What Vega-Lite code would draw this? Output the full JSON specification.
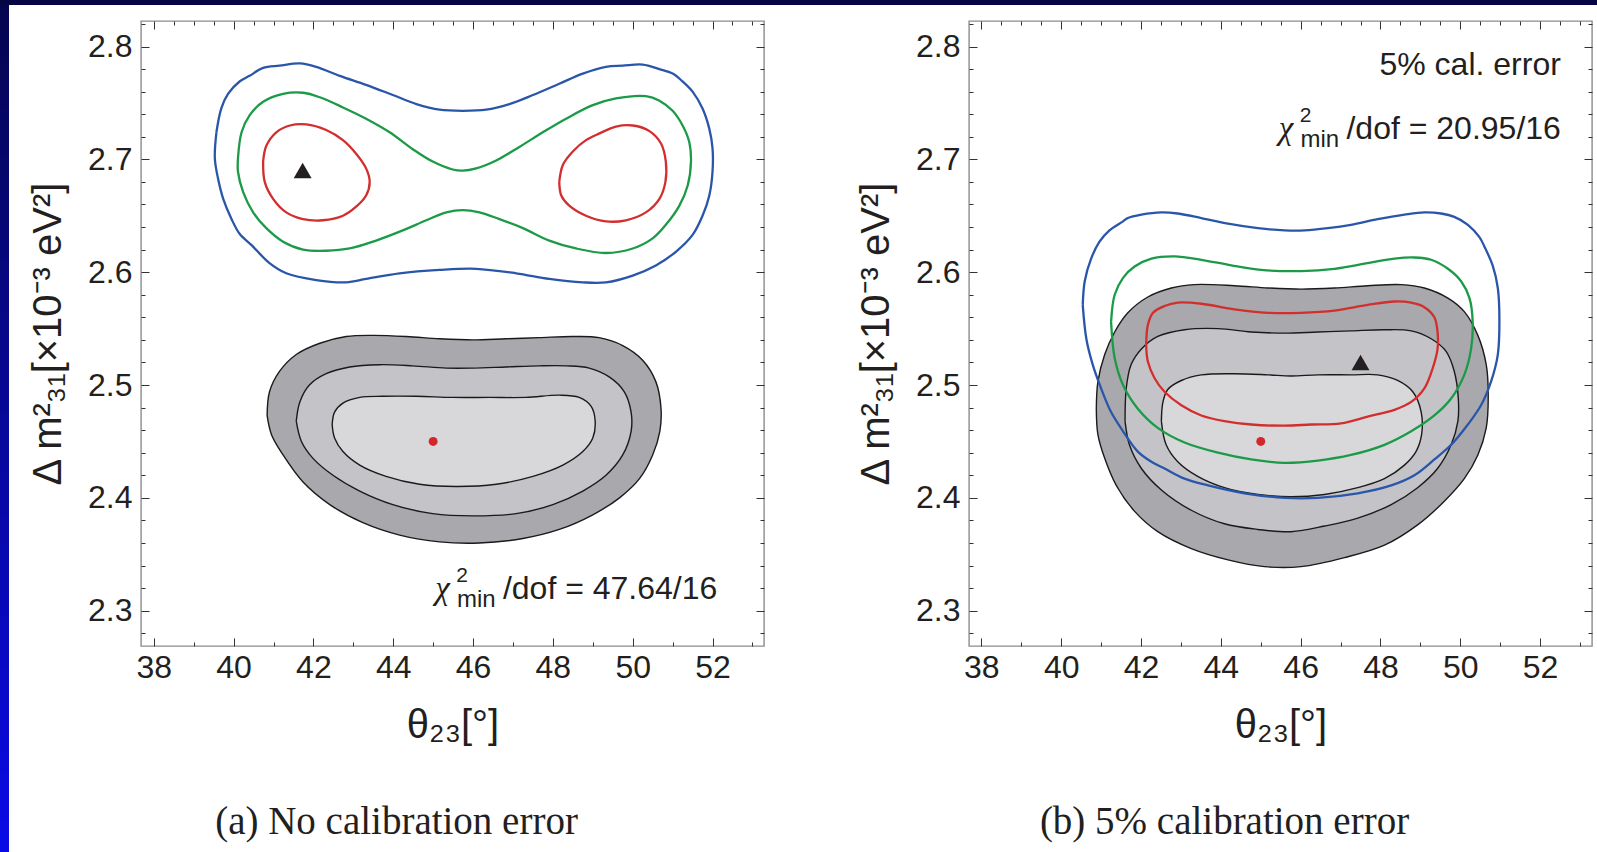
{
"$schema":"https://vega.github.io/schema/vega-lite/v6.json",
"padding":0,
"background":"white",
"config":{"view":{"stroke":"#8c8c8c","strokeWidth":1.4},"font":"Liberation Sans"},
"datasets":{
"cont":[
{"p":"A","c":"bl","i":1,"x":39.57,"y":2.724},{"p":"A","c":"bl","i":2,"x":39.69,"y":2.745},{"p":"A","c":"bl","i":3,"x":39.86,"y":2.758},{"p":"A","c":"bl","i":4,"x":40.15,"y":2.769},{"p":"A","c":"bl","i":5,"x":40.40,"y":2.774},{"p":"A","c":"bl","i":6,"x":40.74,"y":2.781},{"p":"A","c":"bl","i":7,"x":41.15,"y":2.783},{"p":"A","c":"bl","i":8,"x":41.66,"y":2.785},{"p":"A","c":"bl","i":9,"x":42.07,"y":2.782},{"p":"A","c":"bl","i":10,"x":42.66,"y":2.774},{"p":"A","c":"bl","i":11,"x":43.32,"y":2.766},{"p":"A","c":"bl","i":12,"x":43.99,"y":2.757},{"p":"A","c":"bl","i":13,"x":44.58,"y":2.749},{"p":"A","c":"bl","i":14,"x":45.16,"y":2.744},{"p":"A","c":"bl","i":15,"x":45.74,"y":2.743},{"p":"A","c":"bl","i":16,"x":46.33,"y":2.744},{"p":"A","c":"bl","i":17,"x":46.91,"y":2.749},{"p":"A","c":"bl","i":18,"x":47.50,"y":2.757},{"p":"A","c":"bl","i":19,"x":48.16,"y":2.767},{"p":"A","c":"bl","i":20,"x":48.75,"y":2.776},{"p":"A","c":"bl","i":21,"x":49.33,"y":2.782},{"p":"A","c":"bl","i":22,"x":49.75,"y":2.783},{"p":"A","c":"bl","i":23,"x":50.25,"y":2.784},{"p":"A","c":"bl","i":24,"x":50.67,"y":2.780},{"p":"A","c":"bl","i":25,"x":51.00,"y":2.776},{"p":"A","c":"bl","i":26,"x":51.25,"y":2.769},{"p":"A","c":"bl","i":27,"x":51.50,"y":2.760},{"p":"A","c":"bl","i":28,"x":51.75,"y":2.745},{"p":"A","c":"bl","i":29,"x":51.92,"y":2.727},{"p":"A","c":"bl","i":30,"x":52.00,"y":2.710},{"p":"A","c":"bl","i":31,"x":52.00,"y":2.689},{"p":"A","c":"bl","i":32,"x":51.92,"y":2.668},{"p":"A","c":"bl","i":33,"x":51.75,"y":2.650},{"p":"A","c":"bl","i":34,"x":51.50,"y":2.633},{"p":"A","c":"bl","i":35,"x":51.08,"y":2.618},{"p":"A","c":"bl","i":36,"x":50.58,"y":2.606},{"p":"A","c":"bl","i":37,"x":50.00,"y":2.597},{"p":"A","c":"bl","i":38,"x":49.33,"y":2.591},{"p":"A","c":"bl","i":39,"x":48.75,"y":2.591},{"p":"A","c":"bl","i":40,"x":47.91,"y":2.594},{"p":"A","c":"bl","i":41,"x":47.08,"y":2.599},{"p":"A","c":"bl","i":42,"x":46.08,"y":2.603},{"p":"A","c":"bl","i":43,"x":45.16,"y":2.602},{"p":"A","c":"bl","i":44,"x":44.16,"y":2.599},{"p":"A","c":"bl","i":45,"x":43.32,"y":2.594},{"p":"A","c":"bl","i":46,"x":42.82,"y":2.591},{"p":"A","c":"bl","i":47,"x":42.07,"y":2.593},{"p":"A","c":"bl","i":48,"x":41.32,"y":2.599},{"p":"A","c":"bl","i":49,"x":40.90,"y":2.608},{"p":"A","c":"bl","i":50,"x":40.45,"y":2.624},{"p":"A","c":"bl","i":51,"x":40.15,"y":2.634},{"p":"A","c":"bl","i":52,"x":39.95,"y":2.647},{"p":"A","c":"bl","i":53,"x":39.74,"y":2.665},{"p":"A","c":"bl","i":54,"x":39.61,"y":2.683},{"p":"A","c":"bl","i":55,"x":39.53,"y":2.701},{"p":"A","c":"bl","i":56,"x":39.57,"y":2.724},
{"p":"A","c":"gr","i":1,"x":40.11,"y":2.701},{"p":"A","c":"gr","i":2,"x":40.20,"y":2.724},{"p":"A","c":"gr","i":3,"x":40.40,"y":2.739},{"p":"A","c":"gr","i":4,"x":40.74,"y":2.751},{"p":"A","c":"gr","i":5,"x":41.24,"y":2.758},{"p":"A","c":"gr","i":6,"x":41.74,"y":2.759},{"p":"A","c":"gr","i":7,"x":42.16,"y":2.755},{"p":"A","c":"gr","i":8,"x":42.74,"y":2.746},{"p":"A","c":"gr","i":9,"x":43.32,"y":2.736},{"p":"A","c":"gr","i":10,"x":43.91,"y":2.724},{"p":"A","c":"gr","i":11,"x":44.49,"y":2.709},{"p":"A","c":"gr","i":12,"x":44.99,"y":2.698},{"p":"A","c":"gr","i":13,"x":45.49,"y":2.691},{"p":"A","c":"gr","i":14,"x":45.74,"y":2.690},{"p":"A","c":"gr","i":15,"x":46.08,"y":2.692},{"p":"A","c":"gr","i":16,"x":46.58,"y":2.699},{"p":"A","c":"gr","i":17,"x":47.16,"y":2.711},{"p":"A","c":"gr","i":18,"x":47.75,"y":2.724},{"p":"A","c":"gr","i":19,"x":48.33,"y":2.736},{"p":"A","c":"gr","i":20,"x":49.00,"y":2.748},{"p":"A","c":"gr","i":21,"x":49.58,"y":2.754},{"p":"A","c":"gr","i":22,"x":50.33,"y":2.756},{"p":"A","c":"gr","i":23,"x":50.67,"y":2.752},{"p":"A","c":"gr","i":24,"x":51.00,"y":2.743},{"p":"A","c":"gr","i":25,"x":51.25,"y":2.730},{"p":"A","c":"gr","i":26,"x":51.42,"y":2.715},{"p":"A","c":"gr","i":27,"x":51.46,"y":2.698},{"p":"A","c":"gr","i":28,"x":51.38,"y":2.677},{"p":"A","c":"gr","i":29,"x":51.17,"y":2.659},{"p":"A","c":"gr","i":30,"x":50.83,"y":2.642},{"p":"A","c":"gr","i":31,"x":50.50,"y":2.630},{"p":"A","c":"gr","i":32,"x":50.00,"y":2.621},{"p":"A","c":"gr","i":33,"x":49.33,"y":2.617},{"p":"A","c":"gr","i":34,"x":48.58,"y":2.621},{"p":"A","c":"gr","i":35,"x":47.91,"y":2.628},{"p":"A","c":"gr","i":36,"x":47.25,"y":2.639},{"p":"A","c":"gr","i":37,"x":46.66,"y":2.647},{"p":"A","c":"gr","i":38,"x":46.16,"y":2.653},{"p":"A","c":"gr","i":39,"x":45.74,"y":2.655},{"p":"A","c":"gr","i":40,"x":45.33,"y":2.653},{"p":"A","c":"gr","i":41,"x":44.83,"y":2.646},{"p":"A","c":"gr","i":42,"x":44.24,"y":2.637},{"p":"A","c":"gr","i":43,"x":43.57,"y":2.628},{"p":"A","c":"gr","i":44,"x":42.91,"y":2.621},{"p":"A","c":"gr","i":45,"x":42.32,"y":2.619},{"p":"A","c":"gr","i":46,"x":41.74,"y":2.620},{"p":"A","c":"gr","i":47,"x":41.24,"y":2.627},{"p":"A","c":"gr","i":48,"x":40.82,"y":2.639},{"p":"A","c":"gr","i":49,"x":40.49,"y":2.653},{"p":"A","c":"gr","i":50,"x":40.24,"y":2.671},{"p":"A","c":"gr","i":51,"x":40.11,"y":2.689},{"p":"A","c":"gr","i":52,"x":40.11,"y":2.701},
{"p":"A","c":"r1","i":1,"x":40.74,"y":2.698},{"p":"A","c":"r1","i":2,"x":40.82,"y":2.712},{"p":"A","c":"r1","i":3,"x":41.07,"y":2.724},{"p":"A","c":"r1","i":4,"x":41.41,"y":2.730},{"p":"A","c":"r1","i":5,"x":41.82,"y":2.731},{"p":"A","c":"r1","i":6,"x":42.32,"y":2.726},{"p":"A","c":"r1","i":7,"x":42.74,"y":2.717},{"p":"A","c":"r1","i":8,"x":43.07,"y":2.705},{"p":"A","c":"r1","i":9,"x":43.32,"y":2.692},{"p":"A","c":"r1","i":10,"x":43.41,"y":2.680},{"p":"A","c":"r1","i":11,"x":43.32,"y":2.668},{"p":"A","c":"r1","i":12,"x":43.07,"y":2.658},{"p":"A","c":"r1","i":13,"x":42.74,"y":2.650},{"p":"A","c":"r1","i":14,"x":42.24,"y":2.646},{"p":"A","c":"r1","i":15,"x":41.74,"y":2.647},{"p":"A","c":"r1","i":16,"x":41.32,"y":2.653},{"p":"A","c":"r1","i":17,"x":40.99,"y":2.665},{"p":"A","c":"r1","i":18,"x":40.78,"y":2.680},{"p":"A","c":"r1","i":19,"x":40.74,"y":2.698},
{"p":"A","c":"r2","i":1,"x":48.16,"y":2.680},{"p":"A","c":"r2","i":2,"x":48.25,"y":2.695},{"p":"A","c":"r2","i":3,"x":48.50,"y":2.707},{"p":"A","c":"r2","i":4,"x":48.83,"y":2.717},{"p":"A","c":"r2","i":5,"x":49.17,"y":2.723},{"p":"A","c":"r2","i":6,"x":49.58,"y":2.729},{"p":"A","c":"r2","i":7,"x":50.00,"y":2.730},{"p":"A","c":"r2","i":8,"x":50.42,"y":2.725},{"p":"A","c":"r2","i":9,"x":50.71,"y":2.714},{"p":"A","c":"r2","i":10,"x":50.83,"y":2.698},{"p":"A","c":"r2","i":11,"x":50.82,"y":2.680},{"p":"A","c":"r2","i":12,"x":50.67,"y":2.665},{"p":"A","c":"r2","i":13,"x":50.33,"y":2.653},{"p":"A","c":"r2","i":14,"x":49.83,"y":2.646},{"p":"A","c":"r2","i":15,"x":49.33,"y":2.645},{"p":"A","c":"r2","i":16,"x":48.83,"y":2.650},{"p":"A","c":"r2","i":17,"x":48.41,"y":2.659},{"p":"A","c":"r2","i":18,"x":48.21,"y":2.668},{"p":"A","c":"r2","i":19,"x":48.16,"y":2.680},
{"p":"A","c":"g1","i":1,"x":40.84,"y":2.473},{"p":"A","c":"g1","i":2,"x":40.90,"y":2.494},{"p":"A","c":"g1","i":3,"x":41.15,"y":2.512},{"p":"A","c":"g1","i":4,"x":41.57,"y":2.527},{"p":"A","c":"g1","i":5,"x":42.16,"y":2.537},{"p":"A","c":"g1","i":6,"x":42.82,"y":2.543},{"p":"A","c":"g1","i":7,"x":43.49,"y":2.544},{"p":"A","c":"g1","i":8,"x":44.33,"y":2.543},{"p":"A","c":"g1","i":9,"x":45.16,"y":2.541},{"p":"A","c":"g1","i":10,"x":45.99,"y":2.540},{"p":"A","c":"g1","i":11,"x":46.83,"y":2.541},{"p":"A","c":"g1","i":12,"x":47.66,"y":2.542},{"p":"A","c":"g1","i":13,"x":48.50,"y":2.543},{"p":"A","c":"g1","i":14,"x":49.16,"y":2.542},{"p":"A","c":"g1","i":15,"x":49.75,"y":2.535},{"p":"A","c":"g1","i":16,"x":50.25,"y":2.522},{"p":"A","c":"g1","i":17,"x":50.58,"y":2.503},{"p":"A","c":"g1","i":18,"x":50.71,"y":2.479},{"p":"A","c":"g1","i":19,"x":50.68,"y":2.459},{"p":"A","c":"g1","i":20,"x":50.50,"y":2.438},{"p":"A","c":"g1","i":21,"x":50.17,"y":2.417},{"p":"A","c":"g1","i":22,"x":49.67,"y":2.400},{"p":"A","c":"g1","i":23,"x":49.00,"y":2.385},{"p":"A","c":"g1","i":24,"x":48.16,"y":2.372},{"p":"A","c":"g1","i":25,"x":47.25,"y":2.364},{"p":"A","c":"g1","i":26,"x":46.16,"y":2.360},{"p":"A","c":"g1","i":27,"x":45.16,"y":2.361},{"p":"A","c":"g1","i":28,"x":44.16,"y":2.367},{"p":"A","c":"g1","i":29,"x":43.24,"y":2.378},{"p":"A","c":"g1","i":30,"x":42.41,"y":2.394},{"p":"A","c":"g1","i":31,"x":41.74,"y":2.414},{"p":"A","c":"g1","i":32,"x":41.24,"y":2.438},{"p":"A","c":"g1","i":33,"x":40.95,"y":2.456},{"p":"A","c":"g1","i":34,"x":40.84,"y":2.473},
{"p":"A","c":"g2","i":1,"x":41.57,"y":2.468},{"p":"A","c":"g2","i":2,"x":41.66,"y":2.485},{"p":"A","c":"g2","i":3,"x":41.90,"y":2.500},{"p":"A","c":"g2","i":4,"x":42.32,"y":2.510},{"p":"A","c":"g2","i":5,"x":42.91,"y":2.516},{"p":"A","c":"g2","i":6,"x":43.66,"y":2.518},{"p":"A","c":"g2","i":7,"x":44.49,"y":2.517},{"p":"A","c":"g2","i":8,"x":45.33,"y":2.515},{"p":"A","c":"g2","i":9,"x":45.99,"y":2.515},{"p":"A","c":"g2","i":10,"x":46.83,"y":2.516},{"p":"A","c":"g2","i":11,"x":47.66,"y":2.517},{"p":"A","c":"g2","i":12,"x":48.33,"y":2.517},{"p":"A","c":"g2","i":13,"x":48.91,"y":2.515},{"p":"A","c":"g2","i":14,"x":49.42,"y":2.507},{"p":"A","c":"g2","i":15,"x":49.79,"y":2.494},{"p":"A","c":"g2","i":16,"x":49.96,"y":2.476},{"p":"A","c":"g2","i":17,"x":49.96,"y":2.459},{"p":"A","c":"g2","i":18,"x":49.75,"y":2.438},{"p":"A","c":"g2","i":19,"x":49.33,"y":2.420},{"p":"A","c":"g2","i":20,"x":48.75,"y":2.406},{"p":"A","c":"g2","i":21,"x":48.00,"y":2.394},{"p":"A","c":"g2","i":22,"x":47.08,"y":2.386},{"p":"A","c":"g2","i":23,"x":45.99,"y":2.384},{"p":"A","c":"g2","i":24,"x":44.99,"y":2.386},{"p":"A","c":"g2","i":25,"x":43.99,"y":2.394},{"p":"A","c":"g2","i":26,"x":43.16,"y":2.406},{"p":"A","c":"g2","i":27,"x":42.49,"y":2.420},{"p":"A","c":"g2","i":28,"x":41.99,"y":2.435},{"p":"A","c":"g2","i":29,"x":41.70,"y":2.450},{"p":"A","c":"g2","i":30,"x":41.57,"y":2.468},
{"p":"A","c":"g3","i":1,"x":42.47,"y":2.465},{"p":"A","c":"g3","i":2,"x":42.53,"y":2.476},{"p":"A","c":"g3","i":3,"x":42.74,"y":2.484},{"p":"A","c":"g3","i":4,"x":43.16,"y":2.489},{"p":"A","c":"g3","i":5,"x":43.74,"y":2.490},{"p":"A","c":"g3","i":6,"x":44.58,"y":2.490},{"p":"A","c":"g3","i":7,"x":45.49,"y":2.489},{"p":"A","c":"g3","i":8,"x":46.41,"y":2.489},{"p":"A","c":"g3","i":9,"x":47.33,"y":2.489},{"p":"A","c":"g3","i":10,"x":48.16,"y":2.491},{"p":"A","c":"g3","i":11,"x":48.66,"y":2.489},{"p":"A","c":"g3","i":12,"x":48.96,"y":2.481},{"p":"A","c":"g3","i":13,"x":49.06,"y":2.468},{"p":"A","c":"g3","i":14,"x":49.00,"y":2.453},{"p":"A","c":"g3","i":15,"x":48.75,"y":2.441},{"p":"A","c":"g3","i":16,"x":48.25,"y":2.429},{"p":"A","c":"g3","i":17,"x":47.50,"y":2.419},{"p":"A","c":"g3","i":18,"x":46.58,"y":2.412},{"p":"A","c":"g3","i":19,"x":45.58,"y":2.410},{"p":"A","c":"g3","i":20,"x":44.66,"y":2.412},{"p":"A","c":"g3","i":21,"x":43.82,"y":2.419},{"p":"A","c":"g3","i":22,"x":43.16,"y":2.429},{"p":"A","c":"g3","i":23,"x":42.74,"y":2.441},{"p":"A","c":"g3","i":24,"x":42.53,"y":2.453},{"p":"A","c":"g3","i":25,"x":42.47,"y":2.465},
{"p":"B","c":"bl","i":1,"x":40.54,"y":2.571},{"p":"B","c":"bl","i":2,"x":40.59,"y":2.592},{"p":"B","c":"bl","i":3,"x":40.75,"y":2.612},{"p":"B","c":"bl","i":4,"x":40.96,"y":2.627},{"p":"B","c":"bl","i":5,"x":41.21,"y":2.637},{"p":"B","c":"bl","i":6,"x":41.55,"y":2.645},{"p":"B","c":"bl","i":7,"x":41.67,"y":2.648},{"p":"B","c":"bl","i":8,"x":42.01,"y":2.651},{"p":"B","c":"bl","i":9,"x":42.51,"y":2.653},{"p":"B","c":"bl","i":10,"x":42.92,"y":2.652},{"p":"B","c":"bl","i":11,"x":43.51,"y":2.648},{"p":"B","c":"bl","i":12,"x":44.18,"y":2.643},{"p":"B","c":"bl","i":13,"x":44.93,"y":2.639},{"p":"B","c":"bl","i":14,"x":45.60,"y":2.637},{"p":"B","c":"bl","i":15,"x":46.10,"y":2.637},{"p":"B","c":"bl","i":16,"x":46.68,"y":2.639},{"p":"B","c":"bl","i":17,"x":47.26,"y":2.642},{"p":"B","c":"bl","i":18,"x":47.93,"y":2.647},{"p":"B","c":"bl","i":19,"x":48.60,"y":2.651},{"p":"B","c":"bl","i":20,"x":49.10,"y":2.653},{"p":"B","c":"bl","i":21,"x":49.52,"y":2.652},{"p":"B","c":"bl","i":22,"x":49.85,"y":2.649},{"p":"B","c":"bl","i":23,"x":50.19,"y":2.642},{"p":"B","c":"bl","i":24,"x":50.48,"y":2.631},{"p":"B","c":"bl","i":25,"x":50.60,"y":2.623},{"p":"B","c":"bl","i":26,"x":50.81,"y":2.606},{"p":"B","c":"bl","i":27,"x":50.94,"y":2.586},{"p":"B","c":"bl","i":28,"x":50.98,"y":2.556},{"p":"B","c":"bl","i":29,"x":50.94,"y":2.527},{"p":"B","c":"bl","i":30,"x":50.77,"y":2.503},{"p":"B","c":"bl","i":31,"x":50.52,"y":2.482},{"p":"B","c":"bl","i":32,"x":50.19,"y":2.465},{"p":"B","c":"bl","i":33,"x":49.77,"y":2.447},{"p":"B","c":"bl","i":34,"x":49.35,"y":2.434},{"p":"B","c":"bl","i":35,"x":48.85,"y":2.420},{"p":"B","c":"bl","i":36,"x":48.27,"y":2.411},{"p":"B","c":"bl","i":37,"x":47.43,"y":2.404},{"p":"B","c":"bl","i":38,"x":46.43,"y":2.400},{"p":"B","c":"bl","i":39,"x":45.60,"y":2.400},{"p":"B","c":"bl","i":40,"x":44.59,"y":2.404},{"p":"B","c":"bl","i":41,"x":43.68,"y":2.411},{"p":"B","c":"bl","i":42,"x":43.09,"y":2.417},{"p":"B","c":"bl","i":43,"x":42.59,"y":2.426},{"p":"B","c":"bl","i":44,"x":42.26,"y":2.432},{"p":"B","c":"bl","i":45,"x":41.92,"y":2.441},{"p":"B","c":"bl","i":46,"x":41.55,"y":2.459},{"p":"B","c":"bl","i":47,"x":41.25,"y":2.476},{"p":"B","c":"bl","i":48,"x":41.00,"y":2.497},{"p":"B","c":"bl","i":49,"x":40.79,"y":2.518},{"p":"B","c":"bl","i":50,"x":40.63,"y":2.541},{"p":"B","c":"bl","i":51,"x":40.54,"y":2.571},
{"p":"B","c":"gr","i":1,"x":41.25,"y":2.556},{"p":"B","c":"gr","i":2,"x":41.34,"y":2.580},{"p":"B","c":"gr","i":3,"x":41.55,"y":2.595},{"p":"B","c":"gr","i":4,"x":41.84,"y":2.605},{"p":"B","c":"gr","i":5,"x":42.26,"y":2.612},{"p":"B","c":"gr","i":6,"x":42.84,"y":2.614},{"p":"B","c":"gr","i":7,"x":43.51,"y":2.611},{"p":"B","c":"gr","i":8,"x":44.26,"y":2.606},{"p":"B","c":"gr","i":9,"x":45.01,"y":2.602},{"p":"B","c":"gr","i":10,"x":46.01,"y":2.601},{"p":"B","c":"gr","i":11,"x":46.85,"y":2.603},{"p":"B","c":"gr","i":12,"x":47.68,"y":2.608},{"p":"B","c":"gr","i":13,"x":48.35,"y":2.612},{"p":"B","c":"gr","i":14,"x":48.85,"y":2.613},{"p":"B","c":"gr","i":15,"x":49.27,"y":2.611},{"p":"B","c":"gr","i":16,"x":49.69,"y":2.603},{"p":"B","c":"gr","i":17,"x":50.02,"y":2.592},{"p":"B","c":"gr","i":18,"x":50.23,"y":2.577},{"p":"B","c":"gr","i":19,"x":50.31,"y":2.556},{"p":"B","c":"gr","i":20,"x":50.27,"y":2.532},{"p":"B","c":"gr","i":21,"x":50.10,"y":2.509},{"p":"B","c":"gr","i":22,"x":49.77,"y":2.488},{"p":"B","c":"gr","i":23,"x":49.35,"y":2.473},{"p":"B","c":"gr","i":24,"x":48.77,"y":2.459},{"p":"B","c":"gr","i":25,"x":48.10,"y":2.447},{"p":"B","c":"gr","i":26,"x":47.26,"y":2.438},{"p":"B","c":"gr","i":27,"x":46.43,"y":2.433},{"p":"B","c":"gr","i":28,"x":45.60,"y":2.431},{"p":"B","c":"gr","i":29,"x":44.76,"y":2.434},{"p":"B","c":"gr","i":30,"x":43.93,"y":2.440},{"p":"B","c":"gr","i":31,"x":43.09,"y":2.449},{"p":"B","c":"gr","i":32,"x":42.42,"y":2.462},{"p":"B","c":"gr","i":33,"x":41.92,"y":2.479},{"p":"B","c":"gr","i":34,"x":41.55,"y":2.500},{"p":"B","c":"gr","i":35,"x":41.34,"y":2.524},{"p":"B","c":"gr","i":36,"x":41.25,"y":2.556},
{"p":"B","c":"r1","i":1,"x":42.13,"y":2.535},{"p":"B","c":"r1","i":2,"x":42.17,"y":2.553},{"p":"B","c":"r1","i":3,"x":42.30,"y":2.564},{"p":"B","c":"r1","i":4,"x":42.59,"y":2.570},{"p":"B","c":"r1","i":5,"x":42.92,"y":2.573},{"p":"B","c":"r1","i":6,"x":43.51,"y":2.572},{"p":"B","c":"r1","i":7,"x":44.34,"y":2.567},{"p":"B","c":"r1","i":8,"x":45.18,"y":2.564},{"p":"B","c":"r1","i":9,"x":46.01,"y":2.564},{"p":"B","c":"r1","i":10,"x":46.85,"y":2.566},{"p":"B","c":"r1","i":11,"x":47.68,"y":2.571},{"p":"B","c":"r1","i":12,"x":48.35,"y":2.574},{"p":"B","c":"r1","i":13,"x":48.77,"y":2.573},{"p":"B","c":"r1","i":14,"x":49.10,"y":2.569},{"p":"B","c":"r1","i":15,"x":49.35,"y":2.560},{"p":"B","c":"r1","i":16,"x":49.43,"y":2.547},{"p":"B","c":"r1","i":17,"x":49.43,"y":2.532},{"p":"B","c":"r1","i":18,"x":49.31,"y":2.515},{"p":"B","c":"r1","i":19,"x":49.10,"y":2.497},{"p":"B","c":"r1","i":20,"x":48.77,"y":2.485},{"p":"B","c":"r1","i":21,"x":48.35,"y":2.478},{"p":"B","c":"r1","i":22,"x":47.68,"y":2.472},{"p":"B","c":"r1","i":23,"x":47.01,"y":2.466},{"p":"B","c":"r1","i":24,"x":46.26,"y":2.465},{"p":"B","c":"r1","i":25,"x":45.60,"y":2.464},{"p":"B","c":"r1","i":26,"x":44.76,"y":2.465},{"p":"B","c":"r1","i":27,"x":44.09,"y":2.468},{"p":"B","c":"r1","i":28,"x":43.51,"y":2.473},{"p":"B","c":"r1","i":29,"x":43.01,"y":2.482},{"p":"B","c":"r1","i":30,"x":42.59,"y":2.494},{"p":"B","c":"r1","i":31,"x":42.34,"y":2.506},{"p":"B","c":"r1","i":32,"x":42.17,"y":2.521},{"p":"B","c":"r1","i":33,"x":42.13,"y":2.535},
{"p":"B","c":"g1","i":1,"x":40.88,"y":2.479},{"p":"B","c":"g1","i":2,"x":40.92,"y":2.503},{"p":"B","c":"g1","i":3,"x":41.09,"y":2.527},{"p":"B","c":"g1","i":4,"x":41.34,"y":2.547},{"p":"B","c":"g1","i":5,"x":41.67,"y":2.564},{"p":"B","c":"g1","i":6,"x":42.17,"y":2.578},{"p":"B","c":"g1","i":7,"x":42.76,"y":2.586},{"p":"B","c":"g1","i":8,"x":43.34,"y":2.589},{"p":"B","c":"g1","i":9,"x":44.34,"y":2.588},{"p":"B","c":"g1","i":10,"x":45.18,"y":2.586},{"p":"B","c":"g1","i":11,"x":46.01,"y":2.585},{"p":"B","c":"g1","i":12,"x":46.85,"y":2.586},{"p":"B","c":"g1","i":13,"x":47.68,"y":2.588},{"p":"B","c":"g1","i":14,"x":48.52,"y":2.589},{"p":"B","c":"g1","i":15,"x":49.10,"y":2.586},{"p":"B","c":"g1","i":16,"x":49.69,"y":2.577},{"p":"B","c":"g1","i":17,"x":50.10,"y":2.565},{"p":"B","c":"g1","i":18,"x":50.44,"y":2.544},{"p":"B","c":"g1","i":19,"x":50.65,"y":2.518},{"p":"B","c":"g1","i":20,"x":50.70,"y":2.491},{"p":"B","c":"g1","i":21,"x":50.65,"y":2.462},{"p":"B","c":"g1","i":22,"x":50.44,"y":2.438},{"p":"B","c":"g1","i":23,"x":50.10,"y":2.417},{"p":"B","c":"g1","i":24,"x":49.60,"y":2.397},{"p":"B","c":"g1","i":25,"x":48.93,"y":2.376},{"p":"B","c":"g1","i":26,"x":48.10,"y":2.358},{"p":"B","c":"g1","i":27,"x":47.10,"y":2.347},{"p":"B","c":"g1","i":28,"x":46.01,"y":2.339},{"p":"B","c":"g1","i":29,"x":45.09,"y":2.339},{"p":"B","c":"g1","i":30,"x":44.18,"y":2.345},{"p":"B","c":"g1","i":31,"x":43.26,"y":2.355},{"p":"B","c":"g1","i":32,"x":42.42,"y":2.370},{"p":"B","c":"g1","i":33,"x":41.84,"y":2.388},{"p":"B","c":"g1","i":34,"x":41.38,"y":2.411},{"p":"B","c":"g1","i":35,"x":41.09,"y":2.435},{"p":"B","c":"g1","i":36,"x":40.92,"y":2.456},{"p":"B","c":"g1","i":37,"x":40.88,"y":2.479},
{"p":"B","c":"g2","i":1,"x":41.60,"y":2.468},{"p":"B","c":"g2","i":2,"x":41.63,"y":2.497},{"p":"B","c":"g2","i":3,"x":41.75,"y":2.518},{"p":"B","c":"g2","i":4,"x":42.01,"y":2.532},{"p":"B","c":"g2","i":5,"x":42.42,"y":2.543},{"p":"B","c":"g2","i":6,"x":43.09,"y":2.549},{"p":"B","c":"g2","i":7,"x":43.93,"y":2.550},{"p":"B","c":"g2","i":8,"x":44.76,"y":2.547},{"p":"B","c":"g2","i":9,"x":45.60,"y":2.546},{"p":"B","c":"g2","i":10,"x":46.43,"y":2.547},{"p":"B","c":"g2","i":11,"x":47.26,"y":2.548},{"p":"B","c":"g2","i":12,"x":48.10,"y":2.549},{"p":"B","c":"g2","i":13,"x":48.77,"y":2.548},{"p":"B","c":"g2","i":14,"x":49.27,"y":2.541},{"p":"B","c":"g2","i":15,"x":49.64,"y":2.530},{"p":"B","c":"g2","i":16,"x":49.85,"y":2.512},{"p":"B","c":"g2","i":17,"x":49.95,"y":2.488},{"p":"B","c":"g2","i":18,"x":49.94,"y":2.468},{"p":"B","c":"g2","i":19,"x":49.77,"y":2.447},{"p":"B","c":"g2","i":20,"x":49.43,"y":2.426},{"p":"B","c":"g2","i":21,"x":48.93,"y":2.409},{"p":"B","c":"g2","i":22,"x":48.27,"y":2.394},{"p":"B","c":"g2","i":23,"x":47.43,"y":2.382},{"p":"B","c":"g2","i":24,"x":46.60,"y":2.375},{"p":"B","c":"g2","i":25,"x":45.76,"y":2.370},{"p":"B","c":"g2","i":26,"x":44.93,"y":2.372},{"p":"B","c":"g2","i":27,"x":44.09,"y":2.377},{"p":"B","c":"g2","i":28,"x":43.26,"y":2.389},{"p":"B","c":"g2","i":29,"x":42.51,"y":2.407},{"p":"B","c":"g2","i":30,"x":42.01,"y":2.426},{"p":"B","c":"g2","i":31,"x":41.71,"y":2.447},{"p":"B","c":"g2","i":32,"x":41.60,"y":2.468},
{"p":"B","c":"g3","i":1,"x":42.51,"y":2.468},{"p":"B","c":"g3","i":2,"x":42.55,"y":2.485},{"p":"B","c":"g3","i":3,"x":42.67,"y":2.496},{"p":"B","c":"g3","i":4,"x":43.01,"y":2.504},{"p":"B","c":"g3","i":5,"x":43.51,"y":2.509},{"p":"B","c":"g3","i":6,"x":44.34,"y":2.510},{"p":"B","c":"g3","i":7,"x":45.18,"y":2.509},{"p":"B","c":"g3","i":8,"x":45.76,"y":2.508},{"p":"B","c":"g3","i":9,"x":46.43,"y":2.509},{"p":"B","c":"g3","i":10,"x":47.26,"y":2.509},{"p":"B","c":"g3","i":11,"x":47.93,"y":2.509},{"p":"B","c":"g3","i":12,"x":48.43,"y":2.504},{"p":"B","c":"g3","i":13,"x":48.81,"y":2.494},{"p":"B","c":"g3","i":14,"x":49.02,"y":2.476},{"p":"B","c":"g3","i":15,"x":49.03,"y":2.456},{"p":"B","c":"g3","i":16,"x":48.89,"y":2.441},{"p":"B","c":"g3","i":17,"x":48.60,"y":2.429},{"p":"B","c":"g3","i":18,"x":48.10,"y":2.417},{"p":"B","c":"g3","i":19,"x":47.43,"y":2.409},{"p":"B","c":"g3","i":20,"x":46.60,"y":2.403},{"p":"B","c":"g3","i":21,"x":45.76,"y":2.401},{"p":"B","c":"g3","i":22,"x":44.93,"y":2.403},{"p":"B","c":"g3","i":23,"x":44.09,"y":2.409},{"p":"B","c":"g3","i":24,"x":43.42,"y":2.419},{"p":"B","c":"g3","i":25,"x":42.92,"y":2.432},{"p":"B","c":"g3","i":26,"x":42.63,"y":2.447},{"p":"B","c":"g3","i":27,"x":42.51,"y":2.468}
],
"mk":[{"p":"A","k":"dot","x":45.0,"y":2.45},{"p":"A","k":"tri","x":41.73,"y":2.69},{"p":"B","k":"dot","x":45.0,"y":2.45},{"p":"B","k":"tri","x":47.5,"y":2.52}],
"ann":[{"p":"A","k":"chi","t":"/dof = 47.64/16","x":52.12,"y":2.310},{"p":"B","k":"chi","t":"/dof = 20.95/16","x":52.52,"y":2.7184},{"p":"B","k":"plain","t":"5% cal. error","x":52.52,"y":2.7745}]
},
"columns":1,
"spacing":0,
"align":"none",
"concat":[
{"width":1597,"height":5,"view":{"stroke":null},"data":{"values":[{"a":1}]},"mark":{"type":"rect","fill":"#050546"},"encoding":{}},
{"columns":2,"spacing":{"row":0,"column":18},"align":"none","concat":[
{"width":9,"height":2,"view":{"stroke":null},"data":{"values":[{"a":1}]},"mark":{"type":"rect","fill":"#050550"},"encoding":{}},
{"width":1,"height":1,"view":{"stroke":null},"data":{"values":[{"a":1}]},"mark":{"type":"rect","fill":"#ffffff","opacity":0},"encoding":{}},
{"width":9,"height":845,"view":{"stroke":null},"data":{"values":[{"a":1}]},"mark":{"type":"rect","fill":{"x1":0,"y1":0,"x2":0,"y2":1,"gradient":"linear","stops":[{"offset":0,"color":"#050550"},{"offset":1,"color":"#0a0ae6"}]}},"encoding":{}},
{"spacing":89,"hconcat":[
{"width":623,"height":625,
"title":{"text":"(a) No calibration error","orient":"bottom","anchor":"middle","frame":"bounds","font":"Liberation Serif","fontSize":39,"fontWeight":"normal","color":"#231f20","offset":58},
"encoding":{"x":{"field":"x","type":"quantitative","scale":{"domain":[37.68,53.29],"nice":false,"zero":false},"axis":null},"y":{"field":"y","type":"quantitative","scale":{"domain":[2.2687,2.8226],"nice":false,"zero":false},"axis":null}},
"resolve":{"axis":{"x":"independent","y":"independent"}},
"layer":[
{"data":{"name":"cont"},"transform":[{"filter":"datum.p=='A' && datum.c=='g1'"}],"mark":{"type":"line","interpolate":"catmull-rom","filled":true,"fill":"#a9a9ad","stroke":"#1a1a1a","strokeWidth":1.4},
"encoding":{"order":{"field":"i","type":"quantitative"},
"x":{"field":"x","type":"quantitative","scale":{"domain":[37.68,53.29],"nice":false,"zero":false},"axis":{"orient":"bottom","values":[38,38.5,39,39.5,40,40.5,41,41.5,42,42.5,43,43.5,44,44.5,45,45.5,46,46.5,47,47.5,48,48.5,49,49.5,50,50.5,51,51.5,52,52.5,53],"format":"d","labelExpr":"datum.value % 2 == 0 ? datum.label : ''","tickSize":{"condition":{"test":"datum.value % 2 == 0","value":-8},"value":-4},"tickColor":"#333333","tickWidth":1,"domain":false,"grid":false,"labelFont":"Liberation Sans","labelFontSize":32,"labelColor":"#231f20","labelPadding":14,"labelFlush":false,"labelOverlap":false,"title":"θ₂₃[°]","titleFont":"Liberation Sans","titleFontSize":40,"titleFontWeight":"normal","titleColor":"#231f20","titlePadding":18}},
"y":{"field":"y","type":"quantitative","scale":{"domain":[2.2687,2.8226],"nice":false,"zero":false},"axis":{"orient":"left","values":[2.28,2.3,2.32,2.34,2.36,2.38,2.4,2.42,2.44,2.46,2.48,2.5,2.52,2.54,2.56,2.58,2.6,2.62,2.64,2.66,2.68,2.7,2.72,2.74,2.76,2.78,2.8,2.82],"format":".1f","labelExpr":"abs(datum.value*10 - round(datum.value*10)) < 0.001 ? datum.label : ''","tickSize":{"condition":{"test":"abs(datum.value*10 - round(datum.value*10)) < 0.001","value":-8},"value":-4},"tickColor":"#333333","tickWidth":1,"domain":false,"grid":false,"labelFont":"Liberation Sans","labelFontSize":32,"labelColor":"#231f20","labelPadding":17,"labelFlush":false,"labelOverlap":false,"title":"Δ m²₃₁[×10⁻³ eV²]","titleFont":"Liberation Sans","titleFontSize":40,"titleFontWeight":"normal","titleColor":"#231f20","titlePadding":19}}}},
{"data":{"name":"cont"},"transform":[{"filter":"datum.p=='A' && datum.c=='g2'"}],"mark":{"type":"line","interpolate":"catmull-rom","filled":true,"fill":"#c4c4c8","stroke":"#1a1a1a","strokeWidth":1.4},
"encoding":{"order":{"field":"i","type":"quantitative"},
"x":{"field":"x","type":"quantitative","scale":{"domain":[37.68,53.29],"nice":false,"zero":false},"axis":{"orient":"top","values":[38,38.5,39,39.5,40,40.5,41,41.5,42,42.5,43,43.5,44,44.5,45,45.5,46,46.5,47,47.5,48,48.5,49,49.5,50,50.5,51,51.5,52,52.5,53],"labels":false,"tickSize":{"condition":{"test":"datum.value % 2 == 0","value":-8},"value":-4},"tickColor":"#333333","tickWidth":1,"domain":false,"grid":false,"title":null}},
"y":{"field":"y","type":"quantitative","scale":{"domain":[2.2687,2.8226],"nice":false,"zero":false},"axis":{"orient":"right","values":[2.28,2.3,2.32,2.34,2.36,2.38,2.4,2.42,2.44,2.46,2.48,2.5,2.52,2.54,2.56,2.58,2.6,2.62,2.64,2.66,2.68,2.7,2.72,2.74,2.76,2.78,2.8,2.82],"labels":false,"tickSize":{"condition":{"test":"abs(datum.value*10 - round(datum.value*10)) < 0.001","value":-8},"value":-4},"tickColor":"#333333","tickWidth":1,"domain":false,"grid":false,"title":null}}}},
{"data":{"name":"cont"},"transform":[{"filter":"datum.p=='A' && datum.c=='g3'"}],"mark":{"type":"line","interpolate":"catmull-rom","filled":true,"fill":"#d8d8da","stroke":"#1a1a1a","strokeWidth":1.4},"encoding":{"order":{"field":"i","type":"quantitative"}}},
{"data":{"name":"cont"},"transform":[{"filter":"datum.p=='A' && (datum.c=='bl' || datum.c=='gr' || datum.c=='r1' || datum.c=='r2')"}],"mark":{"type":"line","interpolate":"catmull-rom","strokeWidth":2.3},"encoding":{"order":{"field":"i","type":"quantitative"},"color":{"field":"c","type":"nominal","scale":{"domain":["bl","gr","r1","r2"],"range":["#2a56aa","#1b9a47","#d22e2e","#d22e2e"]},"legend":null}}},
{"data":{"name":"mk"},"transform":[{"filter":"datum.p=='A' && datum.k=='dot'"}],"mark":{"type":"circle","color":"#d5262b","size":80,"opacity":1}},
{"data":{"name":"mk"},"transform":[{"filter":"datum.p=='A' && datum.k=='tri'"}],"mark":{"type":"point","shape":"triangle-up","filled":true,"color":"#231f20","size":320,"opacity":1}},
{"data":{"name":"ann"},"transform":[{"filter":"datum.p=='A' && datum.k=='chi'"}],"mark":{"type":"text","align":"right","baseline":"alphabetic","font":"Liberation Sans","fontSize":32,"color":"#231f20"},"encoding":{"text":{"field":"t"}}},
{"data":{"name":"ann"},"transform":[{"filter":"datum.p=='A' && datum.k=='chi'"}],"mark":{"type":"text","text":"χ","align":"left","baseline":"alphabetic","font":"Liberation Serif","fontStyle":"italic","fontSize":33,"dx":-282,"color":"#231f20"}},
{"data":{"name":"ann"},"transform":[{"filter":"datum.p=='A' && datum.k=='chi'"}],"mark":{"type":"text","text":"2","align":"left","baseline":"alphabetic","font":"Liberation Sans","fontSize":21,"dx":-261,"dy":-17,"color":"#231f20"}},
{"data":{"name":"ann"},"transform":[{"filter":"datum.p=='A' && datum.k=='chi'"}],"mark":{"type":"text","text":"min","align":"center","baseline":"alphabetic","font":"Liberation Sans","fontSize":24,"dx":-241,"dy":8,"color":"#231f20"}}
]},
{"width":623,"height":625,
"title":{"text":"(b) 5% calibration error","orient":"bottom","anchor":"middle","frame":"bounds","font":"Liberation Serif","fontSize":39,"fontWeight":"normal","color":"#231f20","offset":58},
"encoding":{"x":{"field":"x","type":"quantitative","scale":{"domain":[37.69,53.30],"nice":false,"zero":false},"axis":null},"y":{"field":"y","type":"quantitative","scale":{"domain":[2.2687,2.8226],"nice":false,"zero":false},"axis":null}},
"resolve":{"axis":{"x":"independent","y":"independent"}},
"layer":[
{"data":{"name":"cont"},"transform":[{"filter":"datum.p=='B' && datum.c=='g1'"}],"mark":{"type":"line","interpolate":"catmull-rom","filled":true,"fill":"#a9a9ad","stroke":"#1a1a1a","strokeWidth":1.4},
"encoding":{"order":{"field":"i","type":"quantitative"},
"x":{"field":"x","type":"quantitative","scale":{"domain":[37.69,53.30],"nice":false,"zero":false},"axis":{"orient":"bottom","values":[38,38.5,39,39.5,40,40.5,41,41.5,42,42.5,43,43.5,44,44.5,45,45.5,46,46.5,47,47.5,48,48.5,49,49.5,50,50.5,51,51.5,52,52.5,53],"format":"d","labelExpr":"datum.value % 2 == 0 ? datum.label : ''","tickSize":{"condition":{"test":"datum.value % 2 == 0","value":-8},"value":-4},"tickColor":"#333333","tickWidth":1,"domain":false,"grid":false,"labelFont":"Liberation Sans","labelFontSize":32,"labelColor":"#231f20","labelPadding":14,"labelFlush":false,"labelOverlap":false,"title":"θ₂₃[°]","titleFont":"Liberation Sans","titleFontSize":40,"titleFontWeight":"normal","titleColor":"#231f20","titlePadding":18}},
"y":{"field":"y","type":"quantitative","scale":{"domain":[2.2687,2.8226],"nice":false,"zero":false},"axis":{"orient":"left","values":[2.28,2.3,2.32,2.34,2.36,2.38,2.4,2.42,2.44,2.46,2.48,2.5,2.52,2.54,2.56,2.58,2.6,2.62,2.64,2.66,2.68,2.7,2.72,2.74,2.76,2.78,2.8,2.82],"format":".1f","labelExpr":"abs(datum.value*10 - round(datum.value*10)) < 0.001 ? datum.label : ''","tickSize":{"condition":{"test":"abs(datum.value*10 - round(datum.value*10)) < 0.001","value":-8},"value":-4},"tickColor":"#333333","tickWidth":1,"domain":false,"grid":false,"labelFont":"Liberation Sans","labelFontSize":32,"labelColor":"#231f20","labelPadding":17,"labelFlush":false,"labelOverlap":false,"title":"Δ m²₃₁[×10⁻³ eV²]","titleFont":"Liberation Sans","titleFontSize":40,"titleFontWeight":"normal","titleColor":"#231f20","titlePadding":19}}}},
{"data":{"name":"cont"},"transform":[{"filter":"datum.p=='B' && datum.c=='g2'"}],"mark":{"type":"line","interpolate":"catmull-rom","filled":true,"fill":"#c4c4c8","stroke":"#1a1a1a","strokeWidth":1.4},
"encoding":{"order":{"field":"i","type":"quantitative"},
"x":{"field":"x","type":"quantitative","scale":{"domain":[37.69,53.30],"nice":false,"zero":false},"axis":{"orient":"top","values":[38,38.5,39,39.5,40,40.5,41,41.5,42,42.5,43,43.5,44,44.5,45,45.5,46,46.5,47,47.5,48,48.5,49,49.5,50,50.5,51,51.5,52,52.5,53],"labels":false,"tickSize":{"condition":{"test":"datum.value % 2 == 0","value":-8},"value":-4},"tickColor":"#333333","tickWidth":1,"domain":false,"grid":false,"title":null}},
"y":{"field":"y","type":"quantitative","scale":{"domain":[2.2687,2.8226],"nice":false,"zero":false},"axis":{"orient":"right","values":[2.28,2.3,2.32,2.34,2.36,2.38,2.4,2.42,2.44,2.46,2.48,2.5,2.52,2.54,2.56,2.58,2.6,2.62,2.64,2.66,2.68,2.7,2.72,2.74,2.76,2.78,2.8,2.82],"labels":false,"tickSize":{"condition":{"test":"abs(datum.value*10 - round(datum.value*10)) < 0.001","value":-8},"value":-4},"tickColor":"#333333","tickWidth":1,"domain":false,"grid":false,"title":null}}}},
{"data":{"name":"cont"},"transform":[{"filter":"datum.p=='B' && datum.c=='g3'"}],"mark":{"type":"line","interpolate":"catmull-rom","filled":true,"fill":"#d8d8da","stroke":"#1a1a1a","strokeWidth":1.4},"encoding":{"order":{"field":"i","type":"quantitative"}}},
{"data":{"name":"cont"},"transform":[{"filter":"datum.p=='B' && (datum.c=='bl' || datum.c=='gr' || datum.c=='r1')"}],"mark":{"type":"line","interpolate":"catmull-rom","strokeWidth":2.3},"encoding":{"order":{"field":"i","type":"quantitative"},"color":{"field":"c","type":"nominal","scale":{"domain":["bl","gr","r1"],"range":["#2a56aa","#1b9a47","#d22e2e"]},"legend":null}}},
{"data":{"name":"mk"},"transform":[{"filter":"datum.p=='B' && datum.k=='dot'"}],"mark":{"type":"circle","color":"#d5262b","size":80,"opacity":1}},
{"data":{"name":"mk"},"transform":[{"filter":"datum.p=='B' && datum.k=='tri'"}],"mark":{"type":"point","shape":"triangle-up","filled":true,"color":"#231f20","size":320,"opacity":1}},
{"data":{"name":"ann"},"transform":[{"filter":"datum.p=='B'"}],"mark":{"type":"text","align":"right","baseline":"alphabetic","font":"Liberation Sans","fontSize":32,"color":"#231f20"},"encoding":{"text":{"field":"t"}}},
{"data":{"name":"ann"},"transform":[{"filter":"datum.p=='B' && datum.k=='chi'"}],"mark":{"type":"text","text":"χ","align":"left","baseline":"alphabetic","font":"Liberation Serif","fontStyle":"italic","fontSize":33,"dx":-282,"color":"#231f20"}},
{"data":{"name":"ann"},"transform":[{"filter":"datum.p=='B' && datum.k=='chi'"}],"mark":{"type":"text","text":"2","align":"left","baseline":"alphabetic","font":"Liberation Sans","fontSize":21,"dx":-261,"dy":-17,"color":"#231f20"}},
{"data":{"name":"ann"},"transform":[{"filter":"datum.p=='B' && datum.k=='chi'"}],"mark":{"type":"text","text":"min","align":"center","baseline":"alphabetic","font":"Liberation Sans","fontSize":24,"dx":-241,"dy":8,"color":"#231f20"}}
]}
]}
]}
]
}
